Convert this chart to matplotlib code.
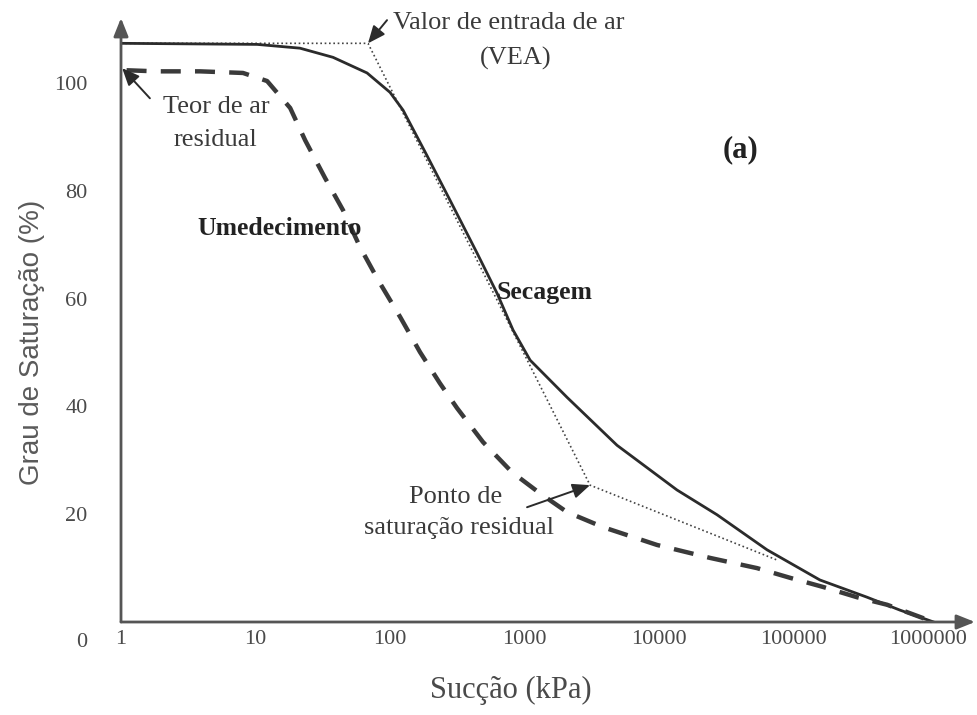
import matplotlib.pyplot as plt
from matplotlib import rcParams
from matplotlib.transforms import ScaledTranslation

# ===== 全局设置 =====
rcParams.update({
    'font.family': ['Liberation Serif', 'DejaVu Serif'],
    'axes.unicode_minus': False,
})

# ===== 数据=====
# 曲线 de secagem (linha cheia)
drying_suction = [1, 10.3, 21.4, 37.7, 67.5, 100, 125, 188, 279, 443, 625, 821,
                  1100, 2070, 4870, 13600, 27000, 63500, 157000, 352000, 619000, 1100000]
drying_sat = [107.4, 107.2, 106.5, 104.8, 101.9, 98.3, 95.0, 86.6, 78.3, 68.5, 61.0, 54.2,
              48.6, 41.7, 32.8, 24.5, 19.9, 13.4, 7.8, 4.6, 2.2, 0]

# curva de umedecimento (tracejada)
wetting_suction = [1.1, 1.85, 3.87, 8.07, 12.2, 18.1, 23.4, 32.9, 44.8, 59.8, 81.4, 119,
                   167, 235, 315, 491, 807, 1300, 2070, 3840, 9660, 23900, 53500, 94200,
                   166000, 296000, 496000, 1100000]
wetting_sat = [102.4, 102.2, 102.2, 101.9, 100.4, 95.4, 89.4, 82.4, 76.4, 69.6, 63.5, 56.6,
               50.1, 44.3, 39.7, 33.4, 27.8, 23.9, 20.4, 17.6, 14.3, 11.9, 10.0, 8.2,
               6.5, 4.6, 3.2, 0]

# linhas de construção (pontilhadas): VEA e ponto de saturação residual
construction_suction = [1, 68.6, 3070, 75400]
construction_sat = [107.4, 107.4, 25.4, 11.5]
vea_point = (68.6, 107.4)
residual_point = (3070, 25.4)

x_ticks = [1, 10, 100, 1000, 10000, 100000, 1000000]
x_tick_labels = ['1', '10', '100', '1000', '10000', '100000', '1000000']
y_ticks = [0, 20, 40, 60, 80, 100]
y_tick_labels = ['0', '20', '40', '60', '80', '100']

# ===== 绘图 =====
fig = plt.figure(figsize=(9.77, 7.15), dpi=100)
ax = fig.add_axes([121 / 977, 93 / 715, 854 / 977, 604 / 715])

ax.plot(construction_suction, construction_sat, color='#444444', lw=1.2,
        ls=(0, (1, 1.6)), zorder=2)
ax.plot(drying_suction, drying_sat, color='#2b2b2b', lw=2.0, zorder=3)
ax.plot(wetting_suction, wetting_sat, color='#3a3a3a', lw=3.2,
        ls=(0, (4.5, 3.2)), zorder=3)

ax.set_xscale('log')
ax.set_xlim(1, 10 ** 6.349)
ax.set_ylim(0, 112.1)
ax.set_xticks(x_ticks)
ax.set_xticklabels(x_tick_labels)
ax.minorticks_off()
ax.set_yticks(y_ticks)
ax.set_yticklabels(y_tick_labels)
ax.tick_params(axis='x', length=0, pad=6, labelsize=16, labelcolor='#4a4a4a')
ax.tick_params(axis='y', length=0, pad=24, labelsize=16, labelcolor='#4a4a4a')
# o "0" fica na origem, um pouco abaixo do eixo
for lbl in ax.get_yticklabels():
    if lbl.get_text() == '0':
        lbl.set_transform(lbl.get_transform() +
                          ScaledTranslation(0, -18 / 100, fig.dpi_scale_trans))

for s in ax.spines.values():
    s.set_visible(False)

# eixos com setas
axis_arrow = dict(arrowstyle='-|>,head_length=0.55,head_width=0.22', color='#555555',
                  lw=2.0, shrinkA=0, shrinkB=0, mutation_scale=20)
ax.annotate('', xy=(1, 0), xytext=(0, 0), xycoords='axes fraction', arrowprops=axis_arrow)
ax.annotate('', xy=(0, 1), xytext=(0, 0), xycoords='axes fraction', arrowprops=axis_arrow)

ax.set_xlabel('Sucção (kPa)', fontsize=22, color='#4a4a4a')
ax.xaxis.label.set_va('center')
ax.xaxis.set_label_coords((511 - 121) / 854, (622 - 690) / 604)
ax.set_ylabel('Grau de Saturação (%)', fontsize=20, color='#5a5a5a',
              family=['Liberation Sans', 'DejaVu Sans'])
ax.yaxis.label.set_va('center')
ax.yaxis.set_label_coords((32 - 121) / 854, (622 - 342) / 604)

# ===== anotações =====
note_arrow = dict(arrowstyle='-|>,head_length=0.7,head_width=0.3', color='#2b2b2b',
                  lw=1.4, shrinkA=0, shrinkB=0, mutation_scale=15)
txt = dict(fontsize=19, color='#3a3a3a')

ax.annotate('', xy=vea_point, xytext=(95, 111.7), arrowprops=note_arrow, annotation_clip=False)
ax.text(105, 111.1, 'Valor de entrada de ar', ha='left', va='center', clip_on=False, **txt)
ax.text(865, 104.5, '(VEA)', ha='center', va='center', **txt)

ax.annotate('', xy=(1.02, 102.8), xytext=(1.64, 97.2), arrowprops=note_arrow)
ax.text(5.09, 95.5, 'Teor de ar', ha='center', va='center', **txt)
ax.text(5.0, 89.4, 'residual', ha='center', va='center', **txt)

ax.annotate('', xy=residual_point, xytext=(1044, 21.3), arrowprops=note_arrow)
ax.text(310, 23.2, 'Ponto de', ha='center', va='center', **txt)
ax.text(326, 17.4, 'saturação residual', ha='center', va='center', **txt)

ax.text(15.2, 73.1, 'Umedecimento', ha='center', va='center', fontsize=18.5,
        fontweight='bold', color='#222222')
ax.text(1420, 61.2, 'Secagem', ha='center', va='center', fontsize=18.5,
        fontweight='bold', color='#222222')
ax.text(40000, 87.6, '(a)', ha='center', va='center', fontsize=22,
        fontweight='bold', color='#222222')

fig.savefig('out.png', dpi=100)
